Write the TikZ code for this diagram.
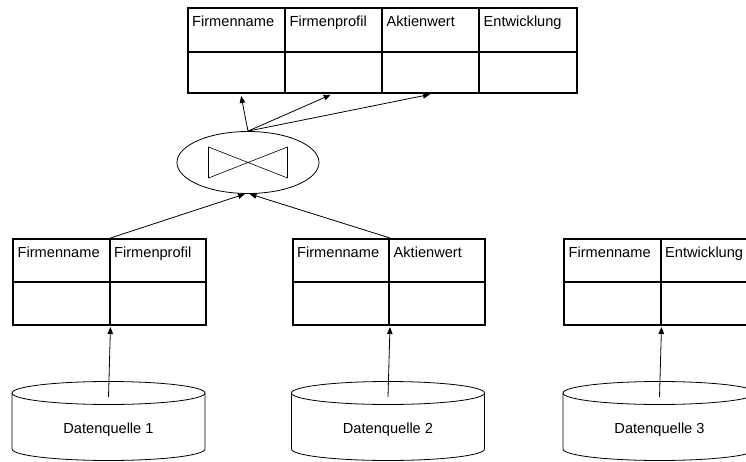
\documentclass[tikz,border=0pt]{standalone}
\usepackage{fontspec}
\setmainfont{Liberation Sans}
\usetikzlibrary{arrows.meta,shapes.geometric}

\tikzset{
  cell/.style n args={2}{draw, line width=2pt, rectangle, inner sep=0pt,
    anchor=north west, minimum width=#1, minimum height=#2},
  head/.style={label={[anchor=base west, inner sep=0pt, xshift=5.5pt,
    yshift=-19.5pt]north west:#1}},
  thin line/.style={line width=0.8pt},
  conn/.style={line width=0.8pt, -{Triangle[length=7pt,width=5.5pt]}},
}

\begin{document}
\begin{tikzpicture}[x=1pt, y=-1pt, font=\fontsize{14.6pt}{17pt}\selectfont]
\useasboundingbox (0,0) rectangle (746,462);
\clip (0,0) rectangle (746,462);

% joined result table
\node[cell={97.5pt}{44pt}, head=Firmenname]   (th1) at (186.5,7) {};
\node[cell={97pt}{44pt},   head=Firmenprofil] (th2) at (284,7) {};
\node[cell={97pt}{44pt},   head=Aktienwert]   (th3) at (381,7) {};
\node[cell={97.5pt}{44pt}, head=Entwicklung]  (th4) at (478,7) {};
\node[cell={97.5pt}{41pt}] (tb1) at (186.5,51) {};
\node[cell={97pt}{41pt}]   (tb2) at (284,51) {};
\node[cell={97pt}{41pt}]   (tb3) at (381,51) {};
\node[cell={97.5pt}{41pt}] (tb4) at (478,51) {};

% join operator
\node[ellipse, draw, thin line, inner sep=0pt, minimum width=142pt,
      minimum height=62pt] (join) at (248,162.5) {};
\draw[line width=0.6pt] ([shift={(-39.5,-15.5)}]join.center)
  -- ([shift={(39.5,15.5)}]join.center)
  -- ([shift={(39.5,-15.5)}]join.center)
  -- ([shift={(-39.5,15.5)}]join.center) -- cycle;

% source tables
\node[cell={96.5pt}{43pt}, head=Firmenname]   (hl1) at (12,238) {};
\node[cell={96.5pt}{43pt}, head=Firmenprofil] (hr1) at (108.5,238) {};
\node[cell={96.5pt}{43pt}] (bl1) at (12,281) {};
\node[cell={96.5pt}{43pt}] (br1) at (108.5,281) {};

\node[cell={96.5pt}{43pt}, head=Firmenname]   (hl2) at (291.5,238) {};
\node[cell={96pt}{43pt},   head=Aktienwert]   (hr2) at (388,238) {};
\node[cell={96.5pt}{43pt}] (bl2) at (291.5,281) {};
\node[cell={96pt}{43pt}]   (br2) at (388,281) {};

\node[cell={96.5pt}{43pt}, head=Firmenname]   (hl3) at (563,238) {};
\node[cell={96.5pt}{43pt}, head=Entwicklung]  (hr3) at (659.5,238) {};
\node[cell={96.5pt}{43pt}] (bl3) at (563,281) {};
\node[cell={96.5pt}{43pt}] (br3) at (659.5,281) {};

% data sources
\foreach \cx/\n in {108.5/1, 388/2, 659.5/3}{
  \draw[thin line] (\cx,393) ellipse [x radius=96.5, y radius=11.5];
  \draw[thin line] (\cx-96.5,393) -- (\cx-96.5,449)
    arc[start angle=180, end angle=0, x radius=96.5, y radius=11.5]
    -- (\cx+96.5,393);
  \node[anchor=base] (ds\n) at (\cx,433) {Datenquelle \n};
  \coordinate (src\n) at (\cx,397);
  \draw[conn, shorten >=1pt] (src\n) -- (bl\n.south east);
}

% inputs of the join
\draw[conn] (hl1.north east) -- ([xshift=-3pt]join.south);
\draw[conn] (hl2.north east) -- ([xshift=1.5pt]join.south);

% outputs of the join
\draw[conn, shorten >=2pt] (join.north) -- ([xshift=4.5pt]tb1.south);
\draw[conn, shorten >=2pt] (join.north) -- ([xshift=-1pt]tb2.south);
\draw[conn, shorten >=2pt] (join.north) -- ([xshift=1.5pt]tb3.south);
\end{tikzpicture}
\end{document}
